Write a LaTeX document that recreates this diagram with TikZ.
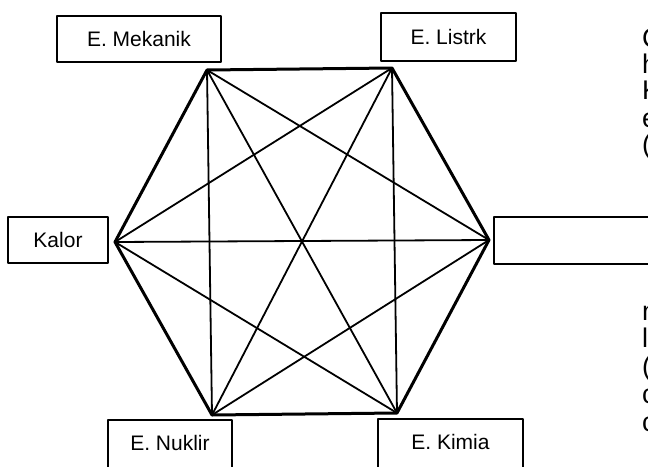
\documentclass[tikz,border=0pt]{standalone}
\usepackage{fontspec}
\setmainfont{Liberation Sans}
\usepackage{tikz}
\usetikzlibrary{positioning}

\tikzset{
  energybox/.style={draw=black, line width=1.6pt, inner sep=0pt, font=\fontsize{21}{25}\selectfont},
  cutbox/.style={energybox, anchor=north, text height=30.5pt, text depth=30pt},
  hexedge/.style={line width=3pt},
  diag/.style={line width=1.8pt},
  pagetext/.style={anchor=base west, inner sep=0pt, font=\fontsize{27}{27}\selectfont}
}

\begin{document}
\begin{tikzpicture}[line cap=round,line join=round,x=1pt,y=-1pt]
\useasboundingbox (0,0) rectangle (648,466);
\clip (0,0) rectangle (648,466);

% corners of the hexagon
\coordinate (mek) at (207,70);
\coordinate (lis) at (392,68);
\coordinate (rig) at (489,240);
\coordinate (kim) at (397,413);
\coordinate (nuk) at (212,415);
\coordinate (kal) at (115,242);

% diagonals
\draw[diag] (mek) -- (rig) (mek) -- (kim) (mek) -- (nuk);
\draw[diag] (lis) -- (kim) (lis) -- (nuk) (lis) -- (kal);
\draw[diag] (rig) -- (nuk) (rig) -- (kal);
\draw[diag] (kim) -- (kal);
% sides
\draw[hexedge] (mek) -- (lis) -- (rig) -- (kim) -- (nuk) -- (kal) -- cycle;

% boxes
\node[energybox, minimum width=164pt, minimum height=46pt] (mekanik) at (139,39) {E. Mekanik};
\node[energybox, minimum width=135pt, minimum height=48pt] (listrik) at (448.5,37) {E. Listrk};
\node[energybox, minimum width=100pt, minimum height=46pt] (kalor) at (58,240) {Kalor};
\node[energybox, minimum width=210pt, minimum height=47pt, anchor=west] (kosong) at (493,240.5) {};
\node[cutbox, minimum width=124pt] (nuklir) at (170,419) {E. Nuklir};
\node[cutbox, minimum width=145pt] (kimia) at (450.5,418) {E. Kimia};

% text of the page at the right edge
\node[pagetext] (t1) at (642,47) {C};
\node[pagetext] (t2) at (642,73) {h};
\node[pagetext] (t3) at (642,99) {K};
\node[pagetext] (t4) at (642,127) {e};
\node[pagetext] (t5) at (642,153) {(};
\node[pagetext] (t6) at (642,320) {n};
\node[pagetext] (t7) at (642,347) {l};
\node[pagetext] (t8) at (642,375) {(};
\node[pagetext] (t9) at (642,403) {c};
\node[pagetext] (t10) at (642,431) {c};
\end{tikzpicture}
\end{document}
